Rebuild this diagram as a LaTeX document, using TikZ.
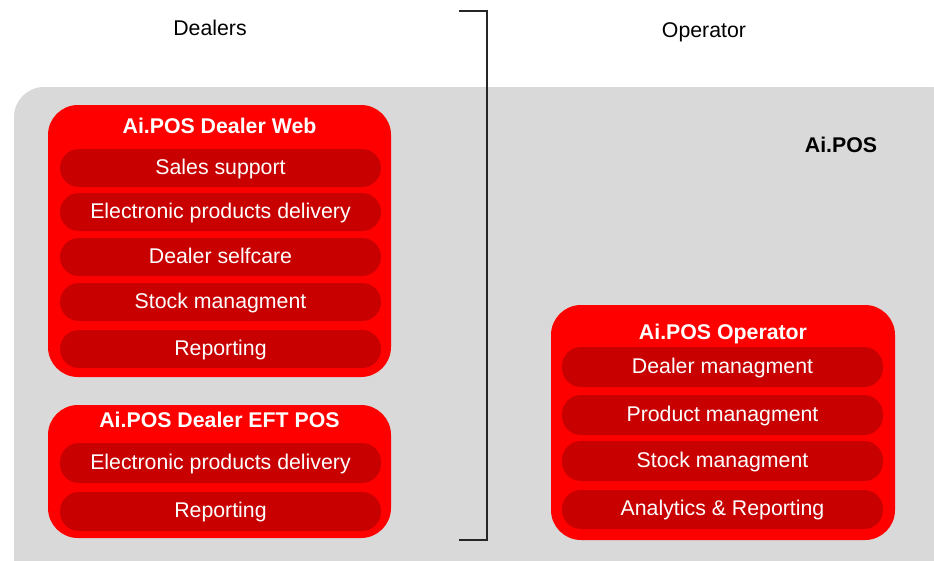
\documentclass[tikz,border=0pt]{standalone}
\usepackage{fontspec}
\setmainfont{Liberation Sans}
\begin{document}
\begin{tikzpicture}[x=1pt,y=-1pt,
  outerbox/.style={draw=none,fill=boxred,rounded corners=30pt,minimum width=343pt,inner sep=0pt},
  pill/.style={draw=none,fill=pillred,rounded corners=19pt,minimum width=321pt,minimum height=38pt,inner sep=0pt,text=white,font=\fontsize{21.3}{24}\selectfont,text height=15.5pt,text depth=3.5pt},
  title/.style={text=white,font=\fontsize{21.3}{24}\selectfont\bfseries,inner sep=0pt,text height=15.3pt,text depth=0pt},
  label/.style={text=black,font=\fontsize{21.3}{24}\selectfont,inner sep=0pt},
  bracket/.style={draw=black!85,line width=1.5pt}]
\definecolor{boxred}{HTML}{FF0000}
\definecolor{pillred}{HTML}{C80000}
\definecolor{greybg}{HTML}{D9D9D9}
\useasboundingbox (0,0) rectangle (934,560);
\begin{scope}
\clip (0,0) rectangle (934,560);
\fill[greybg,rounded corners=30pt] (14,87) rectangle (960,600);
\end{scope}
% labels
\node[label] (dealers) at (210,28) {Dealers};
\node[label] (operator) at (704,32) {Operator};
\node[label,font=\fontsize{21.3}{24}\selectfont\bfseries] (aipos) at (841,145) {Ai.POS};
% bracket
\coordinate (b1) at (459,11);
\coordinate (b2) at (487,11);
\coordinate (b3) at (487,540);
\coordinate (b4) at (459,540);
\draw[bracket] (b1) -- (b2) -- (b3) -- (b4);
% Dealer Web
\node[outerbox,minimum height=272pt] (web) at (219.5,241) {};
\node[title] (webt) at (219.5,125.5) {Ai.POS Dealer Web};
\node[pill] (w1) at (220.5,168) {Sales support};
\node[pill] (w2) at (220.5,212) {Electronic products delivery};
\node[pill] (w3) at (220.5,257) {Dealer selfcare};
\node[pill] (w4) at (220.5,302) {Stock managment};
\node[pill] (w5) at (220.5,349) {Reporting};
% Dealer EFT POS
\node[outerbox,minimum height=133pt] (eft) at (219.5,471.5) {};
\node[title] (eftt) at (219.5,420) {Ai.POS Dealer EFT POS};
\node[pill,minimum height=40pt] (e1) at (220.5,463) {Electronic products delivery};
\node[pill,minimum height=39pt] (e2) at (220.5,511.5) {Reporting};
% Operator
\node[outerbox,minimum width=344pt,minimum height=235pt] (op) at (723,422.5) {};
\node[title] (opt) at (723,332) {Ai.POS Operator};
\node[pill,minimum height=40pt] (o1) at (722.5,367) {Dealer managment};
\node[pill,minimum height=40pt] (o2) at (722.5,415) {Product managment};
\node[pill,minimum height=40pt] (o3) at (722.5,461) {Stock managment};
\node[pill,minimum height=39pt] (o4) at (722.5,509.5) {Analytics \& Reporting};
\end{tikzpicture}
\end{document}
